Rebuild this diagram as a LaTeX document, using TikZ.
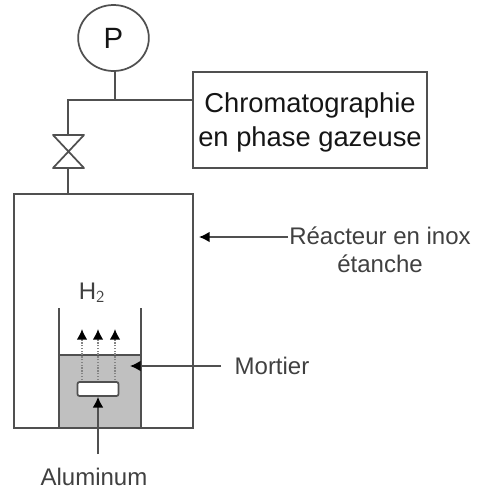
\documentclass[tikz,border=0pt]{standalone}
\usepackage{fontspec}
\setmainfont{Liberation Sans}
\usepackage{xcolor}
\usepackage{tikz}
\usetikzlibrary{positioning,arrows.meta,shapes.geometric,calc}
\definecolor{pipe}{HTML}{505050}
\definecolor{ink}{HTML}{151515}
\definecolor{label}{HTML}{404040}
\definecolor{bath}{HTML}{C0C0C0}
\tikzset{
  line/.style={draw=pipe,line width=1.3pt},
  vessel/.style={line,rectangle,inner sep=0pt,outer sep=0pt,anchor=north west},
  tag/.style={text=label,font=\fontsize{18}{21}\selectfont,inner sep=0pt,align=center},
  pointer/.style={draw=pipe,line width=1.1pt,-{Latex[length=8pt,width=8pt,color=black]}},
  gas/.style={pointer,draw=pipe!70,densely dotted,line width=1.2pt}
}
\begin{document}
\begin{tikzpicture}[x=0.75pt,y=-0.75pt]
  \useasboundingbox (0,0) rectangle (476,490);
  % gauge and analyser
  \node[line,ellipse,minimum width=53pt,minimum height=49.5pt,inner sep=0pt,outer sep=0pt,text=ink,
        font=\fontsize{22}{26}\selectfont] (gauge) at (113.5,38) {P};
  \node[vessel,minimum width=175.5pt,minimum height=72pt] (chromato) at (193,72) {};
  \node[text=ink,align=center,inner sep=0pt,font=\fontsize{20.5}{25.5}\selectfont]
    (chromatoText) at ($(chromato.center)+(0,2.5)$) {Chromatographie\\en phase gazeuse};
  \node[vessel,minimum width=134.25pt,minimum height=175.5pt] (reactor) at (14,194) {};
  % mortar
  \node[vessel,fill=bath,line width=1.6pt,minimum width=61.5pt,minimum height=54.75pt] (bath) at (59,355) {};
  \node[line,fill=white,rectangle,rounded corners=1.5pt,inner sep=0pt,
        minimum width=30.75pt,minimum height=10.5pt] (plate) at (98,389) {};
  \coordinate (wallL) at (bath.north west |- 0,308);
  \coordinate (wallR) at (bath.north east |- 0,308);
  \draw[line] (bath.north west) -- (wallL);
  \draw[line] (bath.north east) -- (wallR);
  % valve
  \coordinate (junction) at (68,100);
  \coordinate (valveTL) at (53,135);
  \coordinate (valveTR) at (84,135);
  \coordinate (valveBL) at (53,168);
  \coordinate (valveBR) at (84,168);
  \draw[line,line join=round] (valveTL) -- (valveTR) -- (valveBL) -- (valveBR) -- cycle;
  % pipes
  \draw[line] (chromato.west |- junction) -- (junction) -- (68,135);
  \draw[line] (68,168) -- (68,194);
  \draw[line] (gauge.south -| 115,0) -- (115,100);
  % labels
  \node[tag] (lblReactor) at (380,250) {Réacteur en inox\\étanche};
  \node[tag] (lblMortar) at (272,366) {Mortier};
  \node[tag] (lblAlu) at (94,477) {Aluminum};
  \node[tag] (lblGas) at (92,293) {H$_{\mathsf{2}}$};
  % arrows
  \coordinate (reactorTip) at (199,237);
  \coordinate (mortarTip) at (130,366);
  \draw[pointer] (288,237) -- (reactorTip);
  \draw[pointer] (221,366) -- (mortarTip);
  \draw[pointer] (98,454) -- (plate.south);
  \foreach \xgas in {82,98,115}
    \draw[gas] (\xgas,380) -- (\xgas,329);
\end{tikzpicture}
\end{document}
